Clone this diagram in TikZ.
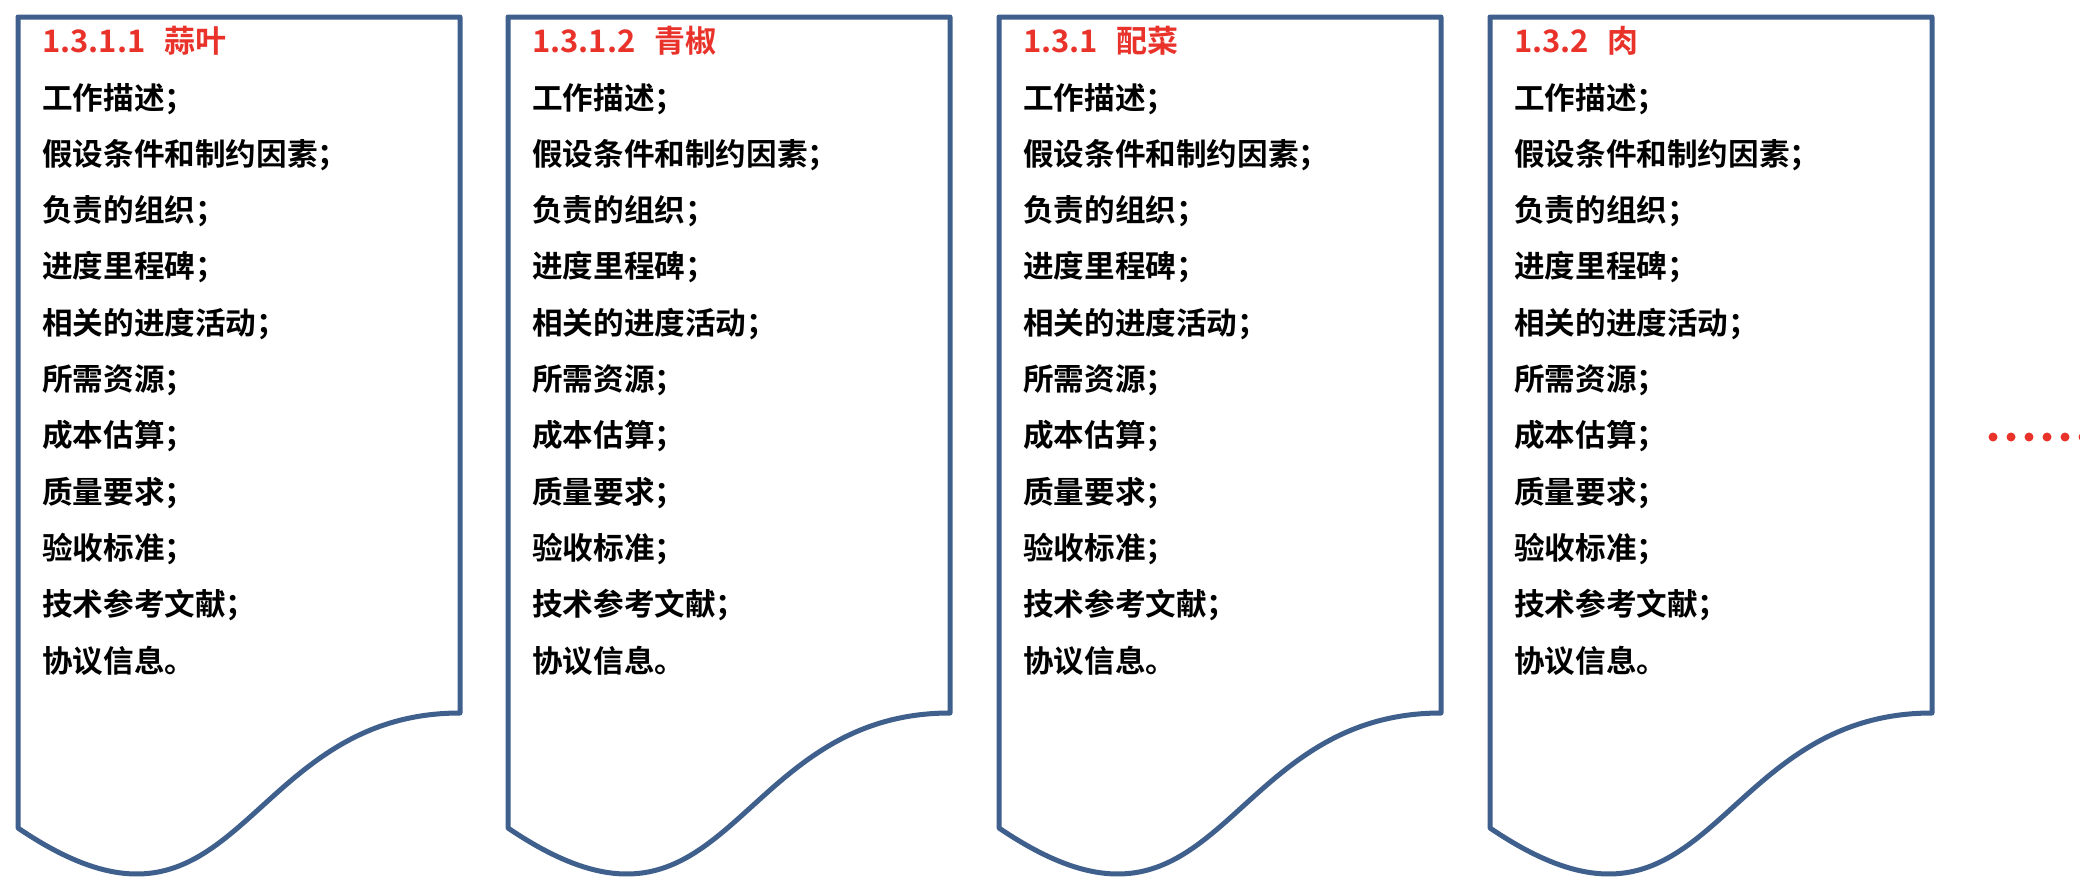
\documentclass[tikz,border=0pt]{standalone}
\usepackage{fontspec}
\setmainfont{Noto Sans CJK SC}[BoldFont={Noto Sans CJK SC Bold}]
\definecolor{docblue}{RGB}{63,95,140}
\definecolor{titlered}{RGB}{232,50,42}
\begin{document}
\begin{tikzpicture}[x=1pt,y=-1pt,
  docshape/.style={draw=docblue,line width=5pt,line join=round,fill=white},
  titletext/.style={anchor=base west,inner sep=0pt,text=titlered,font=\bfseries\fontsize{31}{31}\selectfont},
  itemtext/.style={anchor=base west,inner sep=0pt,font=\bfseries\fontsize{30.6}{30.6}\selectfont},
  reddot/.style={circle,fill=titlered,inner sep=0pt,minimum size=9pt}]
\useasboundingbox (0,0) rectangle (2080,878);
\foreach \L/\T [count=\i] in {18/{1.3.1.1\hspace*{0.6em}蒜叶},508/{1.3.1.2\hspace*{0.6em}青椒},999/{1.3.1\hspace*{0.6em}配菜},1490/{1.3.2\hspace*{0.6em}肉}}{
  \draw[docshape] (\L,17) -- ({\L+442},17) -- ({\L+442},713)
    .. controls ({\L+221},713) and ({\L+221},978) .. (\L,828) -- cycle;
  \node[titletext] (t\i) at ({\L+24},52) {\T};
  \foreach \s [count=\j] in {工作描述；,假设条件和制约因素；,负责的组织；,进度里程碑；,相关的进度活动；,所需资源；,成本估算；,质量要求；,验收标准；,技术参考文献；,协议信息。}{
    \node[itemtext] (b\i-\j) at ({\L+24},{109+56.3*(\j-1)}) {\s};
  }
}
\foreach \k in {0,...,5}{
  \node[reddot] (d\k) at ({1993+18*\k},437) {};
}
\end{tikzpicture}
\end{document}
